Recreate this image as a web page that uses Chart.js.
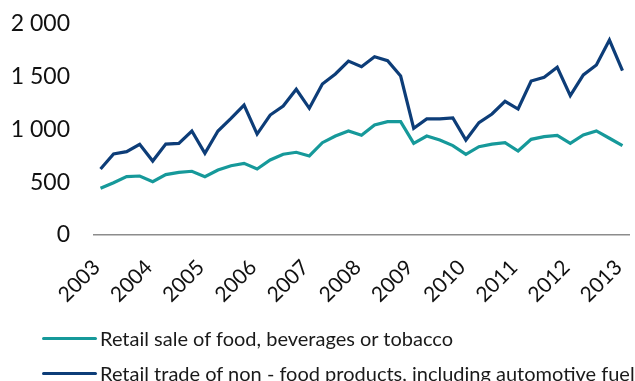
<!DOCTYPE html>
<html>
<head>
<meta charset="utf-8">
<script src="https://cdn.jsdelivr.net/npm/chart.js@4/dist/chart.umd.min.js"></script>
<style>
  html, body { margin: 0; padding: 0; background: #ffffff; overflow: hidden; }
  #wrap { position: relative; width: 635px; height: 381px; }
  #chart { position: absolute; left: 0; top: 0; }
  #legend { position: absolute; left: 42px; top: 0; font-family: Lato, "Noto Sans", sans-serif; font-size: 20px; color: #1a1a1a; }
  .item { position: absolute; left: 0; white-space: nowrap; display: flex; align-items: center; }
  .swatch { display: inline-block; width: 55px; height: 3px; margin-right: 3px; border-radius: 1.5px; }
</style>
</head>
<body>
<div id="wrap">
  <canvas id="chart" width="635" height="381"></canvas>
  <div id="legend"></div>
</div>
<script>
// Quarterly periods, 2003 Q1 to 2013 Q1
const categories = [
  '2003Q1','2003Q2','2003Q3','2003Q4',
  '2004Q1','2004Q2','2004Q3','2004Q4',
  '2005Q1','2005Q2','2005Q3','2005Q4',
  '2006Q1','2006Q2','2006Q3','2006Q4',
  '2007Q1','2007Q2','2007Q3','2007Q4',
  '2008Q1','2008Q2','2008Q3','2008Q4',
  '2009Q1','2009Q2','2009Q3','2009Q4',
  '2010Q1','2010Q2','2010Q3','2010Q4',
  '2011Q1','2011Q2','2011Q3','2011Q4',
  '2012Q1','2012Q2','2012Q3','2012Q4',
  '2013Q1'
];

// Year labels shown under the first quarter of each year
const yearLabels = ['2003','2004','2005','2006','2007','2008','2009','2010','2011','2012','2013'];

const seriesNames = [
  'Retail sale of food, beverages or tobacco',
  'Retail trade of non - food products, including automotive fuel'
];

const foodValues = [
  443, 496, 553, 559, 505, 572, 594, 604, 553, 616,
  657, 679, 626, 711, 765, 784, 749, 875, 938, 986,
  945, 1043, 1074, 1074, 869, 938, 900, 847, 765, 837,
  862, 875, 796, 907, 932, 945, 869, 948, 986, 917,
  847
];

const nonFoodValues = [
  626, 768, 790, 860, 701, 862, 869, 986, 774, 986,
  1106, 1232, 957, 1137, 1223, 1381, 1201, 1431, 1526, 1649,
  1595, 1690, 1652, 1507, 1011, 1100, 1100, 1109, 900, 1065,
  1147, 1267, 1194, 1460, 1495, 1590, 1321, 1517, 1611, 1848,
  1557
];

const yTicks = [0, 500, 1000, 1500, 2000];

const colors = ['#16999a', '#0d3d78'];
const fontFamily = 'Lato, "Noto Sans", sans-serif';

function formatThousands(v) {
  return String(v).replace(/\B(?=(\d{3})+(?!\d))/g, ' ');
}

// Keep the plot area fixed: labels may overhang the layout padding
function clearScalePadding(scale) {
  scale.paddingTop = 0;
  scale.paddingBottom = 0;
  scale.paddingLeft = 0;
  scale.paddingRight = 0;
}

const datasets = [
  { label: seriesNames[0], data: foodValues },
  { label: seriesNames[1], data: nonFoodValues }
].map((d, i) => Object.assign(d, {
  borderColor: colors[i],
  backgroundColor: colors[i],
  borderWidth: 3.2,
  pointRadius: 0,
  pointHoverRadius: 0,
  tension: 0,
  fill: false
}));

const chart = new Chart(document.getElementById('chart'), {
  type: 'line',
  data: { labels: categories, datasets: datasets },
  options: {
    responsive: false,
    animation: false,
    layout: { padding: { left: 0, right: 6, top: 24, bottom: 56 } },
    plugins: {
      legend: { display: false },
      tooltip: { enabled: false }
    },
    scales: {
      x: {
        type: 'category',
        offset: true,
        grid: { display: false, drawTicks: false },
        border: { display: true, color: '#8c8c8c', width: 1.5 },
        afterFit(scale) { scale.height = 90; clearScalePadding(scale); },
        ticks: {
          autoSkip: false,
          minRotation: 45,
          maxRotation: 45,
          padding: 20,
          labelOffset: -4,
          color: '#111111',
          font: { family: fontFamily, size: 21 },
          callback(value, index) {
            const cat = categories[index];
            if (cat.endsWith('Q1')) {
              const y = cat.slice(0, 4);
              return yearLabels.includes(y) ? y : '';
            }
            return '';
          }
        }
      },
      y: {
        min: yTicks[0],
        max: yTicks[yTicks.length - 1],
        grid: { display: false, drawTicks: false },
        border: { display: false },
        afterFit(scale) { scale.width = 94; clearScalePadding(scale); },
        afterBuildTicks(scale) { scale.ticks = yTicks.map(v => ({ value: v })); },
        ticks: {
          padding: 24,
          color: '#111111',
          font: { family: fontFamily, size: 23 },
          callback(value) { return formatThousands(value); }
        }
      }
    }
  }
});

// Legend entries stacked under the axis
const legend = document.getElementById('legend');
const rowCenters = [338, 373];
datasets.forEach((d, i) => {
  const item = document.createElement('div');
  item.className = 'item';
  item.style.top = (rowCenters[i] - 12) + 'px';
  item.style.height = '24px';
  const sw = document.createElement('span');
  sw.className = 'swatch';
  sw.style.background = d.borderColor;
  const tx = document.createElement('span');
  tx.textContent = d.label;
  item.appendChild(sw);
  item.appendChild(tx);
  legend.appendChild(item);
});
</script>
</body>
</html>
